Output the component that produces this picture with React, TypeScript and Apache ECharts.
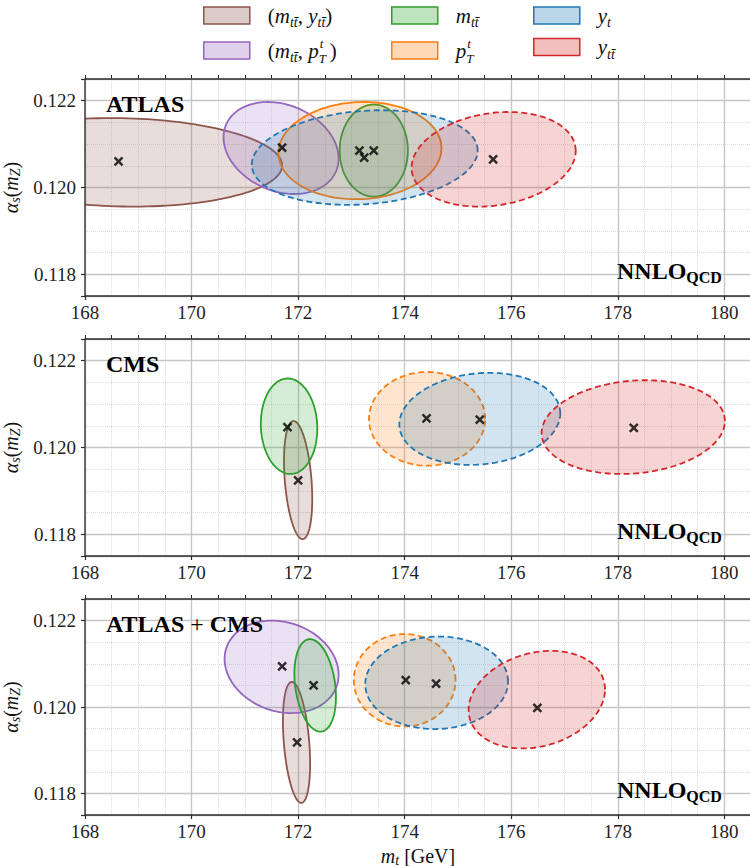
import React, { useEffect, useRef } from "react";
import * as echarts from "echarts";

// ---------------- data ----------------
const panelTitles = ["ATLAS", "CMS", "ATLAS + CMS"];
const observables = ["(m_tt̄, y_tt̄)", "(m_tt̄, p_T^t)", "m_tt̄", "p_T^t", "y_t", "y_tt̄"];
const colors = ["#8c564b", "#9467bd", "#2ca02c", "#ff7f0e", "#1f77b4", "#d62728"];

// ellipse: [m_t centre, alpha_s centre, m_t half-width, alpha_s half-height, correlation]
const atlasEllipses = [
  [168.7, 0.12058, 3.0, 0.00102, -0.07],
  [171.68, 0.12091, 1.08, 0.00106, -0.23],
  [173.42, 0.12085, 0.64, 0.00106, 0.0],
  [173.16, 0.12085, 1.53, 0.00112, 0.05],
  [173.25, 0.12069, 2.12, 0.00109, 0.15],
  [175.67, 0.12065, 1.54, 0.00109, 0.18],
];
const cmsEllipses = [
  [172.0, 0.11925, 0.265, 0.00136, -0.32],
  null,
  [171.83, 0.12049, 0.53, 0.0011, -0.05],
  [174.42, 0.12066, 1.09, 0.00108, 0.0],
  [175.41, 0.12066, 1.51, 0.00106, 0.12],
  [178.29, 0.12047, 1.72, 0.00108, 0.13],
];
const combinedEllipses = [
  [171.97, 0.11918, 0.255, 0.0014, -0.35],
  [171.69, 0.12093, 1.07, 0.00107, -0.17],
  [172.32, 0.1205, 0.39, 0.00107, -0.25],
  [174.0, 0.12062, 0.955, 0.00107, 0.0],
  [174.6, 0.12056, 1.34, 0.00107, 0.03],
  [176.48, 0.12017, 1.28, 0.00113, 0.21],
];

// best-fit points [m_t, alpha_s]
const atlasBest = [
  [168.63, 0.1206],
  [171.7, 0.12092],
  [173.42, 0.12085],
  [173.15, 0.12085],
  [173.24, 0.12069],
  [175.66, 0.12065],
];
const cmsBest = [
  [172.0, 0.11924],
  [171.8, 0.12047],
  [174.41, 0.12067],
  [175.41, 0.12064],
  [178.3, 0.12045],
];
const combinedBest = [
  [171.98, 0.11918],
  [171.7, 0.12094],
  [172.29, 0.1205],
  [174.02, 0.12062],
  [174.59, 0.12054],
  [176.49, 0.11998],
];

const dashedAtlas = [false, false, false, false, true, true];
const dashedOther = [false, false, false, true, true, true];

const mtRange = [168, 180.5];
const alphaRange = [0.1175, 0.1225];

// ---------------- styling ----------------
const FONT = "Liberation Serif, DejaVu Serif, serif";
const panelTops = [79, 339, 599];
const panelHeights = [217, 217, 216];

function hexA(hex: string, a: number) {
  const r = parseInt(hex.slice(1, 3), 16);
  const g = parseInt(hex.slice(3, 5), 16);
  const b = parseInt(hex.slice(5, 7), 16);
  return `rgba(${r},${g},${b},${a})`;
}

const mathRich: any = {
  n: { fontFamily: FONT, fontSize: 21, lineHeight: 28, color: "#111" },
  i: { fontFamily: FONT, fontSize: 21, fontStyle: "italic", lineHeight: 28, color: "#111" },
  s: { fontFamily: FONT, fontSize: 14, fontStyle: "italic", lineHeight: 14, verticalAlign: "bottom", color: "#111" },
  z: { fontFamily: FONT, fontSize: 13, fontStyle: "italic", lineHeight: 13, verticalAlign: "bottom", color: "#111", width: 1 },
  u: { fontFamily: FONT, fontSize: 13, fontStyle: "italic", lineHeight: 13, verticalAlign: "top", color: "#111", width: 10 },
};

const axisRich: any = {
  n: { fontFamily: FONT, fontSize: 20, lineHeight: 22, color: "#111" },
  i: { fontFamily: FONT, fontSize: 20, fontStyle: "italic", lineHeight: 22, color: "#111" },
  s: { fontFamily: FONT, fontSize: 14, fontStyle: "italic", lineHeight: 12, verticalAlign: "bottom", color: "#111" },
};

const legendText: Record<string, string> = {
  "(m_tt̄, y_tt̄)": "{n|(}{i|m}{s|tt\u0304}{n|, }{i|y}{s|tt\u0304}{n|)}",
  "(m_tt̄, p_T^t)": "{n|(}{i|m}{s|tt\u0304}{n|, }{i|p}{z|T}{u|t}{n|)}",
  "m_tt̄": "{i|m}{s|tt\u0304}",
  "p_T^t": "{i|p}{z|T}{u|t}",
  "y_t": "{i|y}{s|t}",
  "y_tt̄": "{i|y}{s|tt\u0304}",
};

function ellipseRender(fill: string, stroke: string, dashed: boolean) {
  return (params: any, api: any) => {
    const cx = api.value(0);
    const cy = api.value(1);
    const sx = api.value(2);
    const sy = api.value(3);
    const rho = api.value(4);
    const k = Math.sqrt(1 - rho * rho);
    const pts: number[][] = [];
    const N = 160;
    for (let j = 0; j < N; j++) {
      const t = (2 * Math.PI * j) / N;
      pts.push(api.coord([cx + sx * Math.cos(t), cy + sy * (rho * Math.cos(t) + k * Math.sin(t))]));
    }
    const cs = params.coordSys;
    return {
      type: "group",
      clipPath: { type: "rect", shape: { x: cs.x, y: cs.y, width: cs.width, height: cs.height } },
      children: [
        {
          type: "polygon",
          shape: { points: pts },
          style: {
            fill,
            stroke,
            lineWidth: 1.8,
            lineDash: dashed ? [6, 3.5] : null,
          },
        },
      ],
    };
  };
}

function buildOption() {
  const grids: any[] = [];
  const xAxes: any[] = [];
  const yAxes: any[] = [];
  const series: any[] = [];
  const graphics: any[] = [];
  const ellipseSets = [atlasEllipses, cmsEllipses, combinedEllipses];
  const bestSets = [atlasBest, cmsBest, combinedBest];

  const xFmt = (v: number) => (Math.abs(v - Math.round(v)) < 1e-6 && Math.round(v) % 2 === 0 ? String(Math.round(v)) : "");
  const yFmt = (v: number) => {
    const k = v / 0.002;
    return Math.abs(k - Math.round(k)) < 1e-6 ? v.toFixed(3) : "";
  };

  for (let p = 0; p < 3; p++) {
    grids.push({
      left: 85,
      top: panelTops[p],
      width: 666,
      height: panelHeights[p],
      containLabel: false,
      outerBoundsMode: "none",
      show: true,
      backgroundColor: "transparent",
      borderColor: "#2b2b2b",
      borderWidth: 1.3,
      z: 10,
    });
    // major x
    xAxes.push({
      type: "value",
      gridIndex: p,
      min: mtRange[0],
      max: mtRange[1],
      interval: 2,
      name: p === 2 ? "{i|m}{s|t}{n| [GeV]}" : "",
      nameLocation: "middle",
      nameGap: 30,
      nameTextStyle: { rich: axisRich },
      axisLine: { show: false },
      axisTick: { show: true, length: 4, inside: false, lineStyle: { color: "#2b2b2b", width: 1.2 } },
      axisLabel: { formatter: xFmt, fontFamily: FONT, fontSize: 19, color: "#222", margin: 7 },
      splitLine: { show: true, lineStyle: { color: "#c6c6c6", width: 1.4 } },
      z: 1,
    });
    // minor x
    xAxes.push({
      type: "value",
      gridIndex: p,
      min: mtRange[0],
      max: mtRange[1],
      interval: 0.5,
      axisLine: { show: false },
      axisTick: { show: true, length: 4, inside: false, lineStyle: { color: "#2b2b2b", width: 1 } },
      axisLabel: { show: false },
      splitLine: { show: true, lineStyle: { color: "#dcdcdc", width: 1, type: "dotted" } },
      z: 0,
    });
    // major y
    yAxes.push({
      type: "value",
      gridIndex: p,
      min: alphaRange[0],
      max: alphaRange[1],
      splitNumber: 3,
      name: "{i|α}{s|s}{n|(}{i|m}{s|Z}{n|)}",
      nameLocation: "middle",
      nameRotate: 90,
      nameGap: 51,
      nameTextStyle: { rich: axisRich },
      axisLine: { show: false },
      axisTick: { show: true, length: 4, inside: false, lineStyle: { color: "#2b2b2b", width: 1.2 } },
      axisLabel: { formatter: yFmt, fontFamily: FONT, fontSize: 19, color: "#222", margin: 9 },
      splitLine: { show: true, lineStyle: { color: "#c6c6c6", width: 1.4 } },
      z: 1,
    });
    // minor y
    yAxes.push({
      type: "value",
      gridIndex: p,
      min: alphaRange[0],
      max: alphaRange[1],
      interval: 0.0005,
      axisLine: { show: false },
      axisTick: { show: true, length: 4, inside: false, lineStyle: { color: "#2b2b2b", width: 1 } },
      axisLabel: { show: false },
      splitLine: { show: true, lineStyle: { color: "#dcdcdc", width: 1, type: "dotted" } },
      z: 0,
    });

    const ells = ellipseSets[p];
    const dashed = p === 0 ? dashedAtlas : dashedOther;
    ells.forEach((e, k) => {
      if (!e) return;
      series.push({
        type: "custom",
        name: observables[k],
        xAxisIndex: 2 * p,
        yAxisIndex: 2 * p,
        coordinateSystem: "cartesian2d",
        itemStyle: { color: hexA(colors[k], 0.3), borderColor: colors[k] },
        renderItem: ellipseRender(hexA(colors[k], 0.2), colors[k], dashed[k]),
        data: [e],
        encode: { x: 0, y: 1 },
        z: 3,
        silent: true,
      });
    });
    series.push({
      type: "scatter",
      name: "best fit " + p,
      xAxisIndex: 2 * p,
      yAxisIndex: 2 * p,
      data: bestSets[p],
      symbol: "path://M0,0L10,10M10,0L0,10",
      symbolSize: 8,
      itemStyle: { color: "rgba(0,0,0,0)", borderColor: "#000", borderWidth: 2.5 },
      z: 5,
      silent: true,
    });

    // panel annotations
    const top = panelTops[p];
    const bottom = panelTops[p] + panelHeights[p];
    graphics.push({
      type: "text",
      x: 106,
      y: top + 24.5,
      z: 20,
      style: {
        text: p === 2 ? "{b|ATLAS}{p| + }{b|CMS}" : `{b|${panelTitles[p]}}`,
        verticalAlign: "middle",
        rich: {
          b: { fontFamily: FONT, fontSize: 24, fontWeight: "bold", color: "#111" },
          p: { fontFamily: FONT, fontSize: 24, color: "#111" },
        },
      },
    });
    graphics.push({
      type: "text",
      x: 617,
      y: bottom - 25,
      z: 20,
      style: {
        text: "{b|NNLO}{q|QCD}",
        verticalAlign: "middle",
        rich: {
          b: { fontFamily: FONT, fontSize: 24, fontWeight: "bold", color: "#111", lineHeight: 28 },
          q: { fontFamily: FONT, fontSize: 16, fontWeight: "bold", color: "#111", lineHeight: 16, verticalAlign: "bottom" },
        },
      },
    });
  }

  const legendCols = [
    [0, 1],
    [2, 3],
    [4, 5],
  ];
  const legendLefts = [198, 386, 528];
  const legends = legendCols.map((col, c) => ({
    left: legendLefts[c],
    top: 0,
    orient: "vertical",
    icon: "rect",
    itemWidth: 46,
    itemHeight: 17,
    itemGap: 7,
    selectedMode: false,
    data: col.map((k) => ({
      name: observables[k],
      itemStyle: { color: hexA(colors[k], 0.3), borderColor: colors[k], borderWidth: 1.5 },
    })),
    formatter: (name: string) => legendText[name],
    textStyle: { rich: mathRich, padding: [0, 0, 0, 13] },
  }));

  return {
    animation: false,
    backgroundColor: "#ffffff",
    grid: grids,
    xAxis: xAxes,
    yAxis: yAxes,
    legend: legends,
    series,
    graphic: graphics,
  };
}

export default function App() {
  const ref = useRef<HTMLDivElement>(null);
  useEffect(() => {
    const chart = echarts.init(ref.current!, null, { renderer: "svg" });
    chart.setOption(buildOption() as any);
    return () => chart.dispose();
  }, []);
  return <div ref={ref} style={{ position: "absolute", left: 0, top: 0, width: 750, height: 866 }} />;
}
